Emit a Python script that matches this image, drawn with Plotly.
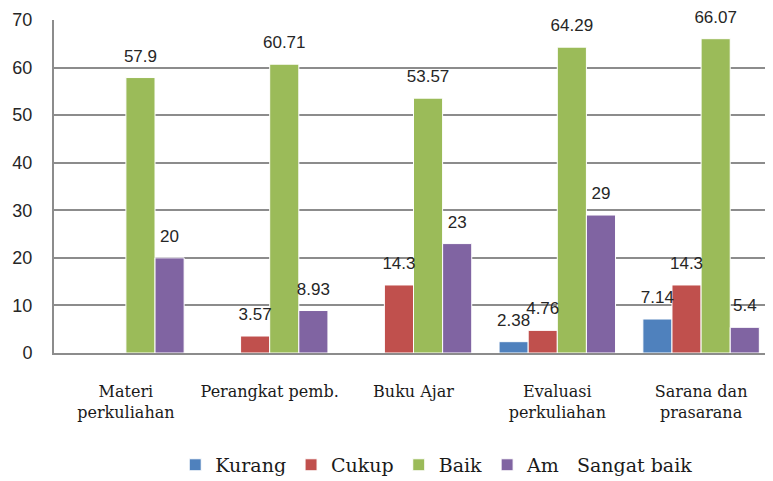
import plotly.graph_objects as go

categories = [
    "Materi<br>perkuliahan",
    "Perangkat pemb.",
    "Buku Ajar",
    "Evaluasi<br>perkuliahan",
    "Sarana dan<br>prasarana",
]
series_names = ["Kurang", "Cukup", "Baik", "Am\u00a0\u00a0\u00a0Sangat baik"]
kurang = [0, 0, 0, 2.38, 7.14]
cukup = [0, 3.57, 14.3, 4.76, 14.3]
baik = [57.9, 60.71, 53.57, 64.29, 66.07]
sangat_baik = [20, 8.93, 23, 29, 5.4]
y_ticks = [0, 10, 20, 30, 40, 50, 60, 70]

colors = ["#4F81BD", "#C0504D", "#9BBB59", "#8064A2"]
# the page body has an 8px margin, so the figure is drawn 8px smaller
# and the margins are shifted to keep the plot area where the original has it

fig = go.Figure()
for name, values, color in zip(series_names, [kurang, cukup, baik, sangat_baik], colors):
    fig.add_trace(
        go.Bar(
            x=categories,
            y=values,
            name=name,
            marker=dict(color=color, line=dict(color="white", width=1)),
        )
    )

# value labels: grouped text points sitting on the bar tops
# (an invisible marker gives the gap above the bar)
for values in [kurang, cukup, baik, sangat_baik]:
    fig.add_trace(
        go.Scatter(
            x=categories,
            y=values,
            mode="markers+text",
            text=["" if v == 0 else f"{v:g}" for v in values],
            textposition="top center",
            textfont=dict(family="Liberation Sans", size=17, color="#262626"),
            marker=dict(size=17, color="rgba(0,0,0,0)"),
            cliponaxis=False,
            showlegend=False,
            hoverinfo="skip",
        )
    )

fig.update_layout(
    width=765,
    height=473,
    barmode="group",
    scattermode="group",
    bargap=0.19,
    bargroupgap=0,
    plot_bgcolor="white",
    paper_bgcolor="white",
    font=dict(family="DejaVu Serif", color="#1a1a1a"),
    margin=dict(l=46, r=0, t=12, b=128, autoexpand=False),
    legend=dict(
        orientation="h",
        x=0.533,
        xanchor="center",
        yref="container",
        y=0.034,
        yanchor="middle",
        font=dict(family="DejaVu Serif", size=19, color="#1a1a1a"),
        traceorder="normal",
    ),
)
fig.update_xaxes(
    showline=True,
    linecolor="#8c8c8c",
    linewidth=2,
    automargin=False,
    ticklabelstandoff=23,
    tickfont=dict(family="DejaVu Serif", size=16, color="#1a1a1a"),
)
fig.update_yaxes(
    range=[0, 70],
    tickvals=y_ticks,
    showgrid=True,
    gridcolor="#8c8c8c",
    gridwidth=1.5,
    showline=True,
    linecolor="#8c8c8c",
    linewidth=2,
    zeroline=False,
    automargin=False,
    ticklabelstandoff=16,
    tickfont=dict(family="Liberation Sans", size=18, color="#262626"),
)

fig.write_html("out.html")
